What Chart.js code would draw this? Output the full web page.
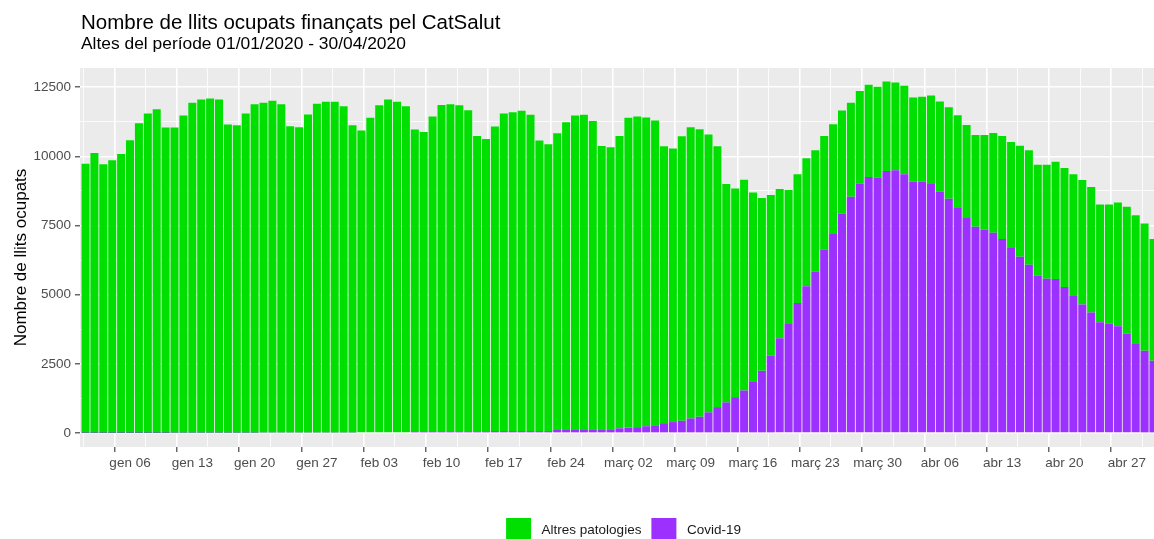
<!DOCTYPE html>
<html>
<head>
<meta charset="utf-8">
<script src="https://cdn.jsdelivr.net/npm/chart.js@4/dist/chart.umd.min.js"></script>
<style>
  html, body { margin: 0; padding: 0; background: #ffffff; overflow: hidden; width: 1154px; height: 539px; }
  #wrap { position: absolute; left: 0; top: 0; width: 1166px; height: 553px; }
</style>
</head>
<body>
<div id="wrap"><canvas id="c" width="1166" height="553"></canvas></div>
<script>
// ---------------- DATA ----------------
const categories = [
  "2020-01-01","2020-01-02","2020-01-03","2020-01-04","2020-01-05","2020-01-06","2020-01-07","2020-01-08","2020-01-09","2020-01-10",
  "2020-01-11","2020-01-12","2020-01-13","2020-01-14","2020-01-15","2020-01-16","2020-01-17","2020-01-18","2020-01-19","2020-01-20",
  "2020-01-21","2020-01-22","2020-01-23","2020-01-24","2020-01-25","2020-01-26","2020-01-27","2020-01-28","2020-01-29","2020-01-30",
  "2020-01-31","2020-02-01","2020-02-02","2020-02-03","2020-02-04","2020-02-05","2020-02-06","2020-02-07","2020-02-08","2020-02-09",
  "2020-02-10","2020-02-11","2020-02-12","2020-02-13","2020-02-14","2020-02-15","2020-02-16","2020-02-17","2020-02-18","2020-02-19",
  "2020-02-20","2020-02-21","2020-02-22","2020-02-23","2020-02-24","2020-02-25","2020-02-26","2020-02-27","2020-02-28","2020-02-29",
  "2020-03-01","2020-03-02","2020-03-03","2020-03-04","2020-03-05","2020-03-06","2020-03-07","2020-03-08","2020-03-09","2020-03-10",
  "2020-03-11","2020-03-12","2020-03-13","2020-03-14","2020-03-15","2020-03-16","2020-03-17","2020-03-18","2020-03-19","2020-03-20",
  "2020-03-21","2020-03-22","2020-03-23","2020-03-24","2020-03-25","2020-03-26","2020-03-27","2020-03-28","2020-03-29","2020-03-30",
  "2020-03-31","2020-04-01","2020-04-02","2020-04-03","2020-04-04","2020-04-05","2020-04-06","2020-04-07","2020-04-08","2020-04-09",
  "2020-04-10","2020-04-11","2020-04-12","2020-04-13","2020-04-14","2020-04-15","2020-04-16","2020-04-17","2020-04-18","2020-04-19",
  "2020-04-20","2020-04-21","2020-04-22","2020-04-23","2020-04-24","2020-04-25","2020-04-26","2020-04-27","2020-04-28","2020-04-29",
  "2020-04-30"
];

const altresPatologies = [
  9724,10111,9700,9845,10075,10570,11186,11536,11693,11029,
  11024,11458,11917,12038,12074,12038,11132,11108,11531,11869,
  11912,11985,11864,11067,11031,11490,11876,11949,11949,11792,
  11103,10900,11359,11818,12023,11939,11782,10921,10837,11392,
  11810,11839,11803,11622,10692,10583,11000,11471,11519,11568,
  11423,10493,10360,10718,11117,11358,11383,11140,10234,10186,
  10562,11189,11222,11151,11012,10002,9878,10280,10521,10388,
  10035,9422,7888,7541,7615,6826,6240,5794,5383,4806,
  4653,4617,4376,4113,3937,3720,3393,3345,3334,3273,
  3236,3176,3200,3044,3068,3200,3249,3309,3322,3333,
  3315,3423,3605,3724,3835,4015,4135,4014,4122,4243,
  4302,4398,4494,4529,4251,4311,4467,4588,4623,4598,
  4404
];

const covid19 = [
  10,10,10,10,10,10,10,10,10,10,
  15,15,15,15,15,15,15,15,15,15,
  20,20,20,20,20,20,20,20,20,20,
  20,30,30,30,30,30,30,45,45,45,
  45,45,45,45,45,45,75,75,75,75,
  75,75,75,115,115,115,115,140,140,140,
  175,200,215,250,280,360,400,445,530,590,
  750,940,1110,1300,1540,1870,2250,2806,3432,3974,
  4697,5311,5841,6624,7222,7935,8539,9010,9251,9239,
  9469,9493,9348,9082,9082,8998,8732,8466,8164,7802,
  7458,7350,7240,7013,6684,6371,6082,5684,5576,5564,
  5275,4950,4649,4360,4010,3950,3866,3589,3252,2975,
  2613
];

const tickDates = ["2020-01-06","2020-01-13","2020-01-20","2020-01-27","2020-02-03","2020-02-10","2020-02-17","2020-02-24",
  "2020-03-02","2020-03-09","2020-03-16","2020-03-23","2020-03-30","2020-04-06","2020-04-13","2020-04-20","2020-04-27"];
const tickLabels = ["gen 06","gen 13","gen 20","gen 27","feb 03","feb 10","feb 17","feb 24",
  "març 02","març 09","març 16","març 23","març 30","abr 06","abr 13","abr 20","abr 27"];
const yTicks = [0, 2500, 5000, 7500, 10000, 12500];

const seriesNames = ["Covid-19", "Altres patologies"];
const titleText = "Nombre de llits ocupats finançats pel CatSalut";
const subtitleText = "Altes del període 01/01/2020 - 30/04/2020";
const yTitle = "Nombre de llits ocupats";

// ---------------- CHART ----------------
const FONT = "'Liberation Sans', Arial, Helvetica, sans-serif";
const dayPos = categories.map((d, i) => i + 1);
const majorX = tickDates.map(d => categories.indexOf(d) + 1);
const majorXLabel = {};
majorX.forEach((p, i) => { majorXLabel[p] = tickLabels[i]; });

const panelBg = {
  id: 'panelBg',
  beforeDraw(chart) {
    const { ctx, chartArea: a } = chart;
    ctx.save();
    ctx.fillStyle = '#EBEBEB';
    ctx.fillRect(a.left, a.top, a.right - a.left, a.bottom - a.top);
    ctx.restore();
  }
};

const titles = {
  id: 'titles',
  afterDraw(chart) {
    const { ctx, chartArea: a } = chart;
    ctx.save();
    ctx.fillStyle = '#000000';
    ctx.textAlign = 'left';
    ctx.textBaseline = 'alphabetic';
    ctx.font = "20.5px " + FONT;
    ctx.fillText(titleText, a.left + 1, a.top - 39.5);
    ctx.font = "17.4px " + FONT;
    ctx.fillText(subtitleText, a.left + 1, a.top - 18.7);
    ctx.restore();
  }
};

const legendShift = {
  id: 'legendShift',
  afterLayout(chart) {
    const lg = chart.legend, a = chart.chartArea;
    if (lg) { lg.left = a.left + 4; lg.right = a.right + 4; }
  }
};

new Chart(document.getElementById('c'), {
  type: 'bar',
  data: {
    datasets: [
      {
        label: seriesNames[0],
        data: covid19.map((v, i) => ({ x: dayPos[i], y: v })),
        backgroundColor: '#9B30FF',
        borderWidth: 0,
        barPercentage: 0.9,
        categoryPercentage: 1.0
      },
      {
        label: seriesNames[1],
        data: altresPatologies.map((v, i) => ({ x: dayPos[i], y: v })),
        backgroundColor: '#00E000',
        borderWidth: 0,
        barPercentage: 0.9,
        categoryPercentage: 1.0
      }
    ]
  },
  options: {
    responsive: false,
    animation: false,
    layout: { padding: { top: 68, right: 7, left: 0, bottom: 0 } },
    plugins: {
      title: { display: false },
      tooltip: { enabled: false },
      legend: {
        display: true,
        position: 'bottom',
        align: 'center',
        labels: {
          boxWidth: 25,
          boxHeight: 25,
          padding: 10,
          color: '#1a1a1a',
          font: { family: FONT, size: 13.5 },
          sort: (a, b) => b.datasetIndex - a.datasetIndex,
          generateLabels(chart) {
            const items = Chart.defaults.plugins.legend.labels.generateLabels(chart);
            items.forEach(it => { it.text = ' ' + it.text; });
            return items;
          }
        }
      }
    },
    scales: {
      x: {
        type: 'linear',
        stacked: true,
        min: 0.38,
        max: 121.62,
        offset: false,
        border: { display: false },
        afterBuildTicks(scale) {
          const t = [];
          const step = majorX[1] - majorX[0];
          t.push({ value: majorX[0] - step / 2 });
          majorX.forEach((p, i) => {
            t.push({ value: p });
            const next = i < majorX.length - 1 ? majorX[i + 1] : p + step;
            t.push({ value: (p + next) / 2 });
          });
          scale.ticks = t.filter(o => o.value >= scale.min && o.value <= scale.max);
        },
        afterFit(scale) { scale.height = 61; },
        grid: {
          drawOnChartArea: true,
          drawTicks: true,
          tickLength: 5,
          color: '#FFFFFF',
          lineWidth: c => (c.tick && majorXLabel[c.tick.value] !== undefined) ? 1.6 : 0.8,
          tickColor: c => (c.tick && majorXLabel[c.tick.value] !== undefined) ? '#333333' : 'rgba(0,0,0,0)',
          tickWidth: 1.1
        },
        ticks: {
          autoSkip: false,
          maxRotation: 0,
          minRotation: 0,
          padding: 3,
          color: '#4D4D4D',
          font: { family: FONT, size: 13.5 },
          callback: v => (majorXLabel[v] !== undefined ? majorXLabel[v] : '')
        }
      },
      y: {
        stacked: true,
        min: -500,
        max: 13190,
        border: { display: false },
        afterBuildTicks(scale) {
          const t = [];
          yTicks.forEach((v, i) => {
            t.push({ value: v });
            if (i < yTicks.length - 1) t.push({ value: (v + yTicks[i + 1]) / 2 });
          });
          scale.ticks = t;
        },
        afterFit(scale) { scale.width = 80; },
        grid: {
          drawTicks: true,
          tickLength: 5,
          color: '#FFFFFF',
          lineWidth: c => (c.tick && yTicks.includes(c.tick.value)) ? 1.6 : 0.8,
          tickColor: c => (c.tick && yTicks.includes(c.tick.value)) ? '#333333' : 'rgba(0,0,0,0)',
          tickWidth: 1.1
        },
        ticks: {
          padding: 4,
          color: '#4D4D4D',
          font: { family: FONT, size: 13.5 },
          callback: v => (yTicks.includes(v) ? String(v) : '')
        },
        title: {
          display: true,
          text: yTitle,
          color: '#000000',
          font: { family: FONT, size: 17 },
          padding: { top: 11, bottom: 0 }
        }
      }
    }
  },
  plugins: [panelBg, titles, legendShift]
});
</script>
</body>
</html>
